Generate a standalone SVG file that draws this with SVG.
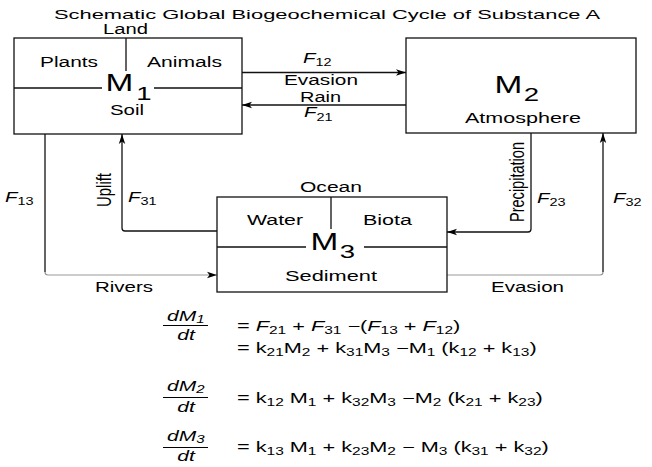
<svg xmlns="http://www.w3.org/2000/svg" width="652" height="467" viewBox="0 0 652 467">
<style>
.t{font-family:"Liberation Sans",Arial,Helvetica,sans-serif;font-size:14px;fill:#000}
.ti{font-size:13.5px}
.m{font-size:23px}
.ms{font-size:19px}
.i{font-style:italic}
.s{font-size:10px}
.box{fill:#fff;stroke:#111;stroke-width:1.3}
.ln{fill:none;stroke:#111;stroke-width:1.3}
.lg{fill:none;stroke:#999;stroke-width:1.2}
.bar{stroke:#000;stroke-width:1}
</style>
<defs>
<marker id="ah" viewBox="0 0 10 8" refX="10" refY="4" markerWidth="10" markerHeight="8" orient="auto" markerUnits="userSpaceOnUse">
<path d="M0,0.8 L10,4 L0,7.2 L2.5,4 Z" fill="#000"/>
</marker>
</defs>
<rect width="652" height="467" fill="#fff"/>
<text class="t ti" x="54" y="19" textLength="546" lengthAdjust="spacingAndGlyphs">Schematic Global Biogeochemical Cycle of Substance A</text>

<g id="connectors">
<path class="ln" d="M242,72.5 H406" marker-end="url(#ah)"/>
<path class="ln" d="M406,105 H242" marker-end="url(#ah)"/>
<path class="ln" d="M45,134 V272"/>
<path class="lg" d="M45,272 Q45,275 48,275 H217" marker-end="url(#ah)"/>
<path class="ln" d="M217,231 H125 Q122,231 122,228 V134" marker-end="url(#ah)"/>
<path class="ln" d="M531,133 V229 Q531,232 528,232 H447" marker-end="url(#ah)"/>
<path class="lg" d="M447,275 H600 Q603,275 603,272"/>
<path class="ln" d="M603,272 V133" marker-end="url(#ah)"/>
</g>

<g id="node-m1">
<text class="t" x="103" y="34" textLength="45" lengthAdjust="spacingAndGlyphs">Land</text>
<rect class="box" x="14" y="38" width="228" height="96"/>
<path class="ln" d="M126,38 V71 M14,88 H102 M154,88 H242"/>
<text class="t" x="40" y="67" textLength="58" lengthAdjust="spacingAndGlyphs">Plants</text>
<text class="t" x="147" y="67" textLength="75" lengthAdjust="spacingAndGlyphs">Animals</text>
<text class="t m" transform="translate(105.5,91) scale(1.45,1)">M<tspan class="ms" dx="2" dy="9">1</tspan></text>
<text class="t" x="110" y="115" textLength="34" lengthAdjust="spacingAndGlyphs">Soil</text>
</g>

<g id="node-m2">
<rect class="box" x="406" y="38" width="230" height="95"/>
<text class="t m" transform="translate(494.5,93) scale(1.45,1)">M<tspan class="ms" dx="1" dy="8">2</tspan></text>
<text class="t" x="465" y="123" textLength="116" lengthAdjust="spacingAndGlyphs">Atmosphere</text>
</g>

<g id="node-m3">
<text class="t" x="300" y="192" textLength="62" lengthAdjust="spacingAndGlyphs">Ocean</text>
<rect class="box" x="217" y="197" width="230" height="95"/>
<path class="ln" d="M331,197 V229 M217,247 H306 M364,247 H447"/>
<text class="t" x="247" y="225" textLength="56" lengthAdjust="spacingAndGlyphs">Water</text>
<text class="t" x="363" y="225" textLength="49" lengthAdjust="spacingAndGlyphs">Biota</text>
<text class="t m" transform="translate(310.5,250) scale(1.45,1)">M<tspan class="ms" dx="1" dy="8">3</tspan></text>
<text class="t" x="285" y="281" textLength="92" lengthAdjust="spacingAndGlyphs">Sediment</text>
</g>

<g id="labels">
<text class="t" transform="translate(303,63) scale(1.45,1)"><tspan class="i">F</tspan><tspan class="s" dy="3">12</tspan></text>
<text class="t" x="284" y="85" textLength="74" lengthAdjust="spacingAndGlyphs">Evasion</text>
<text class="t" x="300" y="102" textLength="41" lengthAdjust="spacingAndGlyphs">Rain</text>
<text class="t" transform="translate(304,117) scale(1.45,1)"><tspan class="i">F</tspan><tspan class="s" dy="4">21</tspan></text>
<text class="t" transform="translate(5,202) scale(1.45,1)"><tspan class="i">F</tspan><tspan class="s" dy="3">13</tspan></text>
<text class="t" transform="translate(111,207) scale(1.45,1) rotate(-90)" textLength="34" lengthAdjust="spacingAndGlyphs">Uplift</text>
<text class="t" transform="translate(128,202) scale(1.45,1)"><tspan class="i">F</tspan><tspan class="s" dy="3">31</tspan></text>
<text class="t" transform="translate(524,222) scale(1.45,1) rotate(-90)" textLength="80" lengthAdjust="spacingAndGlyphs">Precipitation</text>
<text class="t" transform="translate(537,203) scale(1.45,1)"><tspan class="i">F</tspan><tspan class="s" dy="3">23</tspan></text>
<text class="t" transform="translate(613,203) scale(1.45,1)"><tspan class="i">F</tspan><tspan class="s" dy="3">32</tspan></text>
<text class="t" x="95" y="292" textLength="58" lengthAdjust="spacingAndGlyphs">Rivers</text>
<text class="t" x="491" y="292" textLength="73" lengthAdjust="spacingAndGlyphs">Evasion</text>
</g>

<g id="equations">
<text class="t i" transform="translate(167,321) scale(1.5,1)">dM<tspan class="s" dy="2">1</tspan></text>
<line class="bar" x1="163" y1="325.5" x2="208" y2="325.5"/>
<text class="t i" text-anchor="middle" transform="translate(186,340) scale(1.5,1)">dt</text>
<text class="t" transform="translate(237,331) scale(1.55,1)">= <tspan class="i">F</tspan><tspan class="s" dy="3">21</tspan><tspan dy="-3"> + </tspan><tspan class="i">F</tspan><tspan class="s" dy="3">31</tspan><tspan dy="-3"> −(</tspan><tspan class="i">F</tspan><tspan class="s" dy="3">13</tspan><tspan dy="-3"> + </tspan><tspan class="i">F</tspan><tspan class="s" dy="3">12</tspan><tspan dy="-3">)</tspan></text>
<text class="t" transform="translate(237,353) scale(1.55,1)">= k<tspan class="s" dy="3">21</tspan><tspan dy="-3">M</tspan><tspan class="s" dy="3">2</tspan><tspan dy="-3"> + k</tspan><tspan class="s" dy="3">31</tspan><tspan dy="-3">M</tspan><tspan class="s" dy="3">3</tspan><tspan dy="-3"> −M</tspan><tspan class="s" dy="3">1</tspan><tspan dy="-3"> (k</tspan><tspan class="s" dy="3">12</tspan><tspan dy="-3"> + k</tspan><tspan class="s" dy="3">13</tspan><tspan dy="-3">)</tspan></text>

<text class="t i" transform="translate(167,391) scale(1.5,1)">dM<tspan class="s" dy="2">2</tspan></text>
<line class="bar" x1="163" y1="397.5" x2="208" y2="397.5"/>
<text class="t i" text-anchor="middle" transform="translate(186,412) scale(1.5,1)">dt</text>
<text class="t" transform="translate(237,403) scale(1.55,1)">= k<tspan class="s" dy="3">12</tspan><tspan dy="-3"> M</tspan><tspan class="s" dy="3">1</tspan><tspan dy="-3"> + k</tspan><tspan class="s" dy="3">32</tspan><tspan dy="-3">M</tspan><tspan class="s" dy="3">3</tspan><tspan dy="-3"> −M</tspan><tspan class="s" dy="3">2</tspan><tspan dy="-3"> (k</tspan><tspan class="s" dy="3">21</tspan><tspan dy="-3"> + k</tspan><tspan class="s" dy="3">23</tspan><tspan dy="-3">)</tspan></text>

<text class="t i" transform="translate(167,441) scale(1.5,1)">dM<tspan class="s" dy="2">3</tspan></text>
<line class="bar" x1="163" y1="447.5" x2="208" y2="447.5"/>
<text class="t i" text-anchor="middle" transform="translate(186,461) scale(1.5,1)">dt</text>
<text class="t" transform="translate(237,452) scale(1.55,1)">= k<tspan class="s" dy="3">13</tspan><tspan dy="-3"> M</tspan><tspan class="s" dy="3">1</tspan><tspan dy="-3"> + k</tspan><tspan class="s" dy="3">23</tspan><tspan dy="-3">M</tspan><tspan class="s" dy="3">2</tspan><tspan dy="-3"> − M</tspan><tspan class="s" dy="3">3</tspan><tspan dy="-3"> (k</tspan><tspan class="s" dy="3">31</tspan><tspan dy="-3"> + k</tspan><tspan class="s" dy="3">32</tspan><tspan dy="-3">)</tspan></text>
</g>
</svg>
